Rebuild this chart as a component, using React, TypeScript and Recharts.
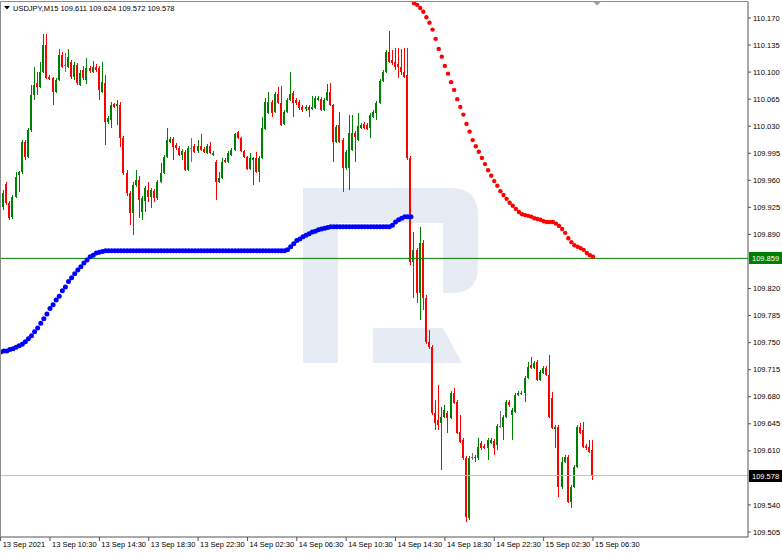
import React from 'react';
import { ComposedChart, Bar, Line, XAxis, YAxis, ReferenceLine } from 'recharts';

const FONT = '"Liberation Sans", Arial, sans-serif';
const GREEN = '#008000';
const RED = '#ff0000';
const DOJI = '#6e6e6e';

const symbolTitle = 'USDJPY,M15';
const lastQuote = ['109.611', '109.624', '109.572', '109.578'];

const xTickIndex = [0, 16, 32, 48, 64, 80, 96, 112, 128, 144, 160, 176, 192];
const xTickLabels = [
  '13 Sep 2021', '13 Sep 10:30', '13 Sep 14:30', '13 Sep 18:30', '13 Sep 22:30',
  '14 Sep 02:30', '14 Sep 06:30', '14 Sep 10:30', '14 Sep 14:30', '14 Sep 18:30',
  '14 Sep 22:30', '15 Sep 02:30', '15 Sep 06:30',
];

const yTicks = [
  110.17, 110.135, 110.1, 110.065, 110.03, 109.995, 109.96, 109.925, 109.89,
  109.82, 109.785, 109.75, 109.715, 109.68, 109.645, 109.61, 109.54, 109.505,
];

const supportLevel = 109.859;
const bidPrice = 109.578;

// [open, high, low, close]
const candles: [number, number, number, number][] = [
  [109.931, 109.935, 109.909, 109.911], [109.926, 109.947, 109.922, 109.944], [109.955, 109.958, 109.928, 109.931],
  [109.931, 109.933, 109.909, 109.911], [109.912, 109.941, 109.910, 109.938], [109.938, 109.971, 109.937, 109.964],
  [109.967, 109.972, 109.945, 109.971], [109.971, 110.012, 109.968, 110.010], [110.010, 110.012, 109.986, 109.990],
  [109.990, 110.028, 109.989, 110.025], [110.025, 110.083, 110.023, 110.070], [110.070, 110.107, 110.064, 110.083],
  [110.086, 110.100, 110.070, 110.081], [110.081, 110.113, 110.079, 110.100], [110.100, 110.149, 110.099, 110.135],
  [110.135, 110.149, 110.091, 110.092], [110.094, 110.096, 110.090, 110.091], [110.092, 110.094, 110.057, 110.074],
  [110.074, 110.092, 110.073, 110.090], [110.090, 110.130, 110.089, 110.122], [110.122, 110.126, 110.105, 110.107],
  [110.109, 110.125, 110.100, 110.109], [110.107, 110.130, 110.105, 110.120], [110.113, 110.116, 110.091, 110.094],
  [110.094, 110.113, 110.090, 110.109], [110.109, 110.112, 110.083, 110.086], [110.083, 110.103, 110.082, 110.099],
  [110.103, 110.108, 110.090, 110.092], [110.090, 110.118, 110.085, 110.105], [110.105, 110.108, 110.099, 110.101],
  [110.100, 110.114, 110.099, 110.107], [110.107, 110.111, 110.100, 110.103], [110.105, 110.108, 110.064, 110.077],
  [110.074, 110.113, 110.073, 110.087], [110.086, 110.096, 110.006, 110.035], [110.035, 110.043, 110.033, 110.041],
  [110.038, 110.061, 110.028, 110.057], [110.059, 110.060, 110.054, 110.055], [110.056, 110.064, 110.032, 110.059],
  [110.057, 110.061, 110.003, 110.015], [110.015, 110.017, 109.967, 109.970], [109.970, 109.973, 109.940, 109.944],
  [109.944, 109.946, 109.902, 109.918], [109.918, 109.958, 109.889, 109.954], [109.954, 109.973, 109.951, 109.960],
  [109.960, 109.966, 109.911, 109.935], [109.919, 109.940, 109.909, 109.937], [109.933, 109.953, 109.919, 109.950],
  [109.948, 109.958, 109.932, 109.938], [109.938, 109.950, 109.924, 109.948], [109.946, 109.949, 109.932, 109.937],
  [109.937, 109.960, 109.935, 109.958], [109.958, 109.982, 109.957, 109.970], [109.970, 109.993, 109.968, 109.990],
  [109.990, 110.028, 109.989, 110.012], [110.010, 110.016, 110.008, 110.014], [110.014, 110.016, 109.986, 110.003],
  [110.006, 110.008, 109.999, 110.002], [110.002, 110.004, 109.992, 109.993], [109.993, 110.001, 109.986, 109.998],
  [109.997, 109.999, 109.972, 109.973], [109.973, 110.004, 109.972, 110.002], [110.002, 110.015, 109.984, 110.002],
  [110.004, 110.007, 109.995, 109.997], [109.998, 110.012, 109.995, 110.004], [110.004, 110.020, 109.998, 109.999],
  [110.001, 110.003, 109.995, 109.997], [109.995, 110.007, 109.994, 110.004], [110.004, 110.010, 109.994, 109.995],
  [109.993, 109.998, 109.992, 109.995], [109.984, 109.986, 109.935, 109.958], [109.958, 109.971, 109.957, 109.963],
  [109.963, 109.989, 109.962, 109.984], [109.986, 109.989, 109.982, 109.984], [109.984, 109.998, 109.982, 109.995],
  [109.993, 110.002, 109.992, 109.999], [109.999, 110.021, 109.998, 110.020], [110.023, 110.024, 110.013, 110.015],
  [110.015, 110.016, 109.997, 109.998], [109.998, 109.999, 109.989, 109.990], [109.990, 109.992, 109.973, 109.975],
  [109.975, 109.995, 109.973, 109.989], [109.986, 109.990, 109.954, 109.989], [109.989, 109.997, 109.970, 109.971],
  [109.971, 109.992, 109.958, 109.989], [109.989, 110.042, 109.988, 110.028], [110.026, 110.066, 110.025, 110.061],
  [110.047, 110.074, 110.046, 110.061], [110.061, 110.064, 110.042, 110.047], [110.048, 110.074, 110.047, 110.072],
  [110.072, 110.081, 110.059, 110.060], [110.060, 110.082, 110.030, 110.032], [110.033, 110.051, 110.032, 110.048],
  [110.048, 110.066, 110.047, 110.064], [110.064, 110.100, 110.063, 110.072], [110.073, 110.076, 110.042, 110.060],
  [110.064, 110.066, 110.057, 110.060], [110.061, 110.064, 110.051, 110.054], [110.055, 110.057, 110.048, 110.051],
  [110.052, 110.057, 110.050, 110.055], [110.055, 110.057, 110.042, 110.051], [110.052, 110.069, 110.051, 110.055],
  [110.054, 110.069, 110.052, 110.066], [110.064, 110.069, 110.063, 110.066], [110.065, 110.068, 110.050, 110.051],
  [110.051, 110.066, 110.050, 110.064], [110.064, 110.085, 110.063, 110.074], [110.074, 110.086, 110.056, 110.057],
  [110.057, 110.059, 109.984, 110.010], [110.010, 110.032, 110.008, 110.029], [110.032, 110.048, 110.008, 110.010],
  [110.012, 110.015, 109.945, 109.976], [109.976, 109.999, 109.973, 109.997], [109.976, 110.045, 109.948, 110.021],
  [109.999, 110.045, 109.998, 110.021], [110.021, 110.024, 109.984, 110.016], [110.012, 110.047, 110.011, 110.030],
  [110.028, 110.034, 110.026, 110.032], [110.033, 110.036, 110.026, 110.028], [110.032, 110.034, 110.025, 110.026],
  [110.028, 110.047, 110.015, 110.045], [110.042, 110.051, 110.041, 110.048], [110.047, 110.063, 110.038, 110.060],
  [110.060, 110.091, 110.059, 110.089], [110.089, 110.103, 110.087, 110.100], [110.100, 110.129, 110.099, 110.126],
  [110.126, 110.153, 110.112, 110.113], [110.116, 110.129, 110.109, 110.112], [110.113, 110.131, 110.103, 110.107],
  [110.110, 110.131, 110.092, 110.107], [110.107, 110.130, 110.096, 110.100], [110.100, 110.131, 110.092, 110.094],
  [110.096, 110.131, 109.986, 109.989], [109.989, 109.992, 109.851, 109.854], [109.854, 109.893, 109.808, 109.870],
  [109.870, 109.872, 109.801, 109.814], [109.814, 109.900, 109.779, 109.879], [109.879, 109.883, 109.792, 109.808],
  [109.808, 109.812, 109.748, 109.751], [109.751, 109.766, 109.742, 109.744], [109.744, 109.747, 109.656, 109.659],
  [109.659, 109.676, 109.637, 109.646], [109.650, 109.695, 109.637, 109.643], [109.646, 109.667, 109.585, 109.654],
  [109.654, 109.669, 109.653, 109.663], [109.659, 109.662, 109.633, 109.653], [109.653, 109.687, 109.651, 109.685],
  [109.685, 109.691, 109.671, 109.672], [109.673, 109.676, 109.632, 109.633], [109.634, 109.656, 109.620, 109.622],
  [109.624, 109.627, 109.598, 109.601], [109.601, 109.603, 109.518, 109.524], [109.523, 109.603, 109.521, 109.601],
  [109.602, 109.607, 109.598, 109.602], [109.601, 109.605, 109.596, 109.602], [109.601, 109.627, 109.598, 109.615],
  [109.620, 109.623, 109.611, 109.614], [109.616, 109.619, 109.612, 109.614], [109.614, 109.627, 109.598, 109.624],
  [109.620, 109.627, 109.619, 109.624], [109.623, 109.625, 109.605, 109.614], [109.618, 109.645, 109.611, 109.642],
  [109.642, 109.662, 109.640, 109.642], [109.641, 109.656, 109.624, 109.654], [109.654, 109.676, 109.653, 109.673],
  [109.673, 109.676, 109.667, 109.669], [109.656, 109.665, 109.624, 109.663], [109.660, 109.685, 109.659, 109.682],
  [109.682, 109.687, 109.681, 109.685], [109.684, 109.687, 109.682, 109.685], [109.685, 109.707, 109.673, 109.704],
  [109.704, 109.725, 109.703, 109.718], [109.721, 109.731, 109.716, 109.717], [109.717, 109.726, 109.716, 109.724],
  [109.725, 109.728, 109.700, 109.702], [109.702, 109.715, 109.700, 109.712], [109.711, 109.720, 109.709, 109.717],
  [109.717, 109.720, 109.707, 109.708], [109.708, 109.734, 109.653, 109.654], [109.678, 109.686, 109.638, 109.640],
  [109.638, 109.643, 109.614, 109.641], [109.641, 109.643, 109.550, 109.563], [109.563, 109.602, 109.561, 109.596],
  [109.596, 109.605, 109.594, 109.602], [109.602, 109.605, 109.542, 109.544], [109.544, 109.566, 109.536, 109.563],
  [109.563, 109.592, 109.562, 109.589], [109.589, 109.643, 109.588, 109.641], [109.641, 109.646, 109.632, 109.633],
  [109.637, 109.647, 109.614, 109.615], [109.616, 109.619, 109.611, 109.614], [109.615, 109.624, 109.607, 109.609],
  [109.611, 109.624, 109.572, 109.578],
];

// blue indicator dots, bars 0..133
const blueStart = 0;
const blueDots = [
  109.738, 109.739, 109.739, 109.741, 109.742, 109.744, 109.746, 109.748, 109.751, 109.755,
  109.759, 109.764, 109.769, 109.775, 109.781, 109.787, 109.794, 109.799, 109.805, 109.810,
  109.817, 109.822, 109.829, 109.834, 109.839, 109.844, 109.848, 109.853, 109.857, 109.861,
  109.863, 109.866, 109.867, 109.868, 109.869, 109.869, 109.869, 109.869, 109.869, 109.869,
  109.869, 109.869, 109.869, 109.869, 109.869, 109.869, 109.869, 109.869, 109.869, 109.869,
  109.869, 109.869, 109.869, 109.869, 109.869, 109.869, 109.869, 109.869, 109.869, 109.869,
  109.869, 109.869, 109.869, 109.869, 109.869, 109.869, 109.869, 109.869, 109.869, 109.869,
  109.869, 109.869, 109.869, 109.869, 109.869, 109.869, 109.869, 109.869, 109.869, 109.869,
  109.869, 109.869, 109.869, 109.869, 109.869, 109.869, 109.869, 109.869, 109.869, 109.869,
  109.869, 109.869, 109.869, 109.870, 109.874, 109.878, 109.882, 109.884, 109.887, 109.889,
  109.891, 109.893, 109.894, 109.896, 109.897, 109.898, 109.899, 109.900, 109.900, 109.900,
  109.900, 109.900, 109.900, 109.900, 109.900, 109.900, 109.900, 109.900, 109.900, 109.900,
  109.900, 109.900, 109.900, 109.900, 109.900, 109.900, 109.900, 109.902, 109.906, 109.909,
  109.911, 109.913, 109.913, 109.913,
];

// red indicator dots, bars 134..192
const redStart = 134;
const redDots = [
  110.189, 110.187, 110.183, 110.178, 110.171, 110.164, 110.155, 110.143, 110.130, 110.120,
  110.108, 110.098, 110.087, 110.077, 110.065, 110.055, 110.045, 110.033, 110.023, 110.012,
  110.004, 109.997, 109.989, 109.981, 109.973, 109.966, 109.959, 109.953, 109.946, 109.941,
  109.936, 109.931, 109.927, 109.923, 109.919, 109.916, 109.915, 109.914, 109.913, 109.911,
  109.910, 109.909, 109.907, 109.906, 109.906, 109.906, 109.904, 109.901, 109.897, 109.892,
  109.885, 109.880, 109.876, 109.874, 109.872, 109.870, 109.866, 109.863, 109.861,
];

const data = candles.map(([o, h, l, c], i) => {
  const bi = i - blueStart;
  const ri = i - redStart;
  return {
    i, o, h, l, c,
    range: [l, h],
    blue: bi >= 0 && bi < blueDots.length ? blueDots[bi] : null,
    red: ri >= 0 && ri < redDots.length ? redDots[ri] : null,
  };
});

function Candle(props: any) {
  const { x, y, width, height, payload } = props;
  if (!payload || x == null || y == null) return null;
  const { o, h, l, c } = payload;
  const top = Math.min(y, y + height);
  const hh = Math.abs(height);
  const cx = Math.floor(x + width / 2);
  const k = h > l ? hh / (h - l) : 0;
  const yo = top + (h - o) * k;
  const yc = top + (h - c) * k;
  const bTop = Math.round(Math.min(yo, yc));
  const bBot = Math.round(Math.max(yo, yc));
  const color = c > o ? GREEN : c < o ? RED : DOJI;
  const wTop = Math.round(top);
  const wBot = Math.round(top + hh);
  return (
    <g>
      <rect x={cx} y={wTop} width={1} height={Math.max(1, wBot - wTop)} fill={color} />
      <rect x={cx - 1} y={bTop} width={2} height={Math.max(1, bBot - bTop)} fill={color} />
    </g>
  );
}

function XTick(props: any) {
  const { x, y, payload } = props;
  const idx = xTickIndex.indexOf(payload.value);
  if (idx < 0) return null;
  return (
    <text x={x + 2} y={y + 5.5} fontSize={7.5} fontFamily={FONT} fill="#000" textAnchor="start">
      {xTickLabels[idx]}
    </text>
  );
}

function PriceTag(props: any) {
  const { viewBox, text, bg } = props;
  if (!viewBox) return null;
  const x = viewBox.x + viewBox.width + 1;
  const y = viewBox.y;
  return (
    <g>
      <rect x={x} y={Math.round(y) - 6} width={33} height={12} fill={bg} />
      <text x={x + 3} y={Math.round(y) + 3} fontSize={7.5} fontFamily={FONT} fill="#ffffff">
        {text}
      </text>
    </g>
  );
}

export default function App() {
  return (
    <div style={{ position: 'absolute', left: 0, top: 0, width: 782, height: 553, background: '#fff', overflow: 'hidden' }}>
      <svg width={782} height={553} style={{ position: 'absolute', left: 0, top: 0 }}>
        <path d="M303,188 H451 Q478,188 478,215 V267 Q478,293 452,293 H443 V223 H338 V363 H303 Z" fill="#e7ebf4" />
        <path d="M373,328 H443 L462,363 H373 Z" fill="#e7ebf4" />
      </svg>
      <div style={{ position: 'absolute', left: 0, top: 0 }}>
        <ComposedChart width={782} height={553} data={data} margin={{ top: 2, right: 0, bottom: 0, left: 0 }}>
          <XAxis
            dataKey="i"
            type="number"
            domain={[-0.207, 242.25]}
            allowDataOverflow
            ticks={xTickIndex}
            interval={0}
            height={16}
            tickSize={4}
            tickMargin={0}
            tick={<XTick />}
            axisLine={{ stroke: '#555' }}
            tickLine={{ stroke: '#555' }}
          />
          <YAxis
            orientation="right"
            type="number"
            domain={[109.4985, 110.1907]}
            allowDataOverflow
            ticks={yTicks}
            interval={0}
            width={34}
            tickSize={3}
            tickMargin={2}
            tickFormatter={(v: number) => v.toFixed(3)}
            tick={{ fontSize: 7.5, fill: '#000', fontFamily: FONT }}
            axisLine={{ stroke: '#555' }}
            tickLine={{ stroke: '#555' }}
          />
          <ReferenceLine y={bidPrice} stroke="#c0c0c0" strokeWidth={1}
            label={(p: any) => <PriceTag viewBox={p.viewBox} text={bidPrice.toFixed(3)} bg="#000" />} />
          <Line dataKey="blue" stroke="none" strokeWidth={0} isAnimationActive={false}
            dot={{ r: 2.5, fill: '#0000ff', stroke: 'none' }} activeDot={false} connectNulls={false} />
          <Line dataKey="red" stroke="none" strokeWidth={0} isAnimationActive={false}
            dot={{ r: 2.2, fill: '#ff0000', stroke: 'none' }} activeDot={false} connectNulls={false} />
          <Bar dataKey="range" barSize={3} isAnimationActive={false} shape={(p: any) => <Candle {...p} />} />
          <ReferenceLine y={supportLevel} stroke={GREEN} strokeWidth={1}
            label={(p: any) => <PriceTag viewBox={p.viewBox} text={supportLevel.toFixed(3)} bg={GREEN} />} />
        </ComposedChart>
      </div>
      <svg width={782} height={553} style={{ position: 'absolute', left: 0, top: 0, pointerEvents: 'none' }}>
        <line x1={0.5} y1={1.5} x2={748} y2={1.5} stroke="#8a8a8a" />
        <line x1={0.5} y1={1.5} x2={0.5} y2={537} stroke="#8a8a8a" />
        <polygon points="4,6 10,6 7,9.5" fill="#000" />
        <text x={13} y={10.5} fontSize={7.5} fontFamily={FONT} fill="#000">
          {symbolTitle + '  ' + lastQuote.join(' ')}
        </text>
        <polygon points="593,1.5 601,1.5 597,5.5" fill="#a0a0a0" />
      </svg>
    </div>
  );
}
